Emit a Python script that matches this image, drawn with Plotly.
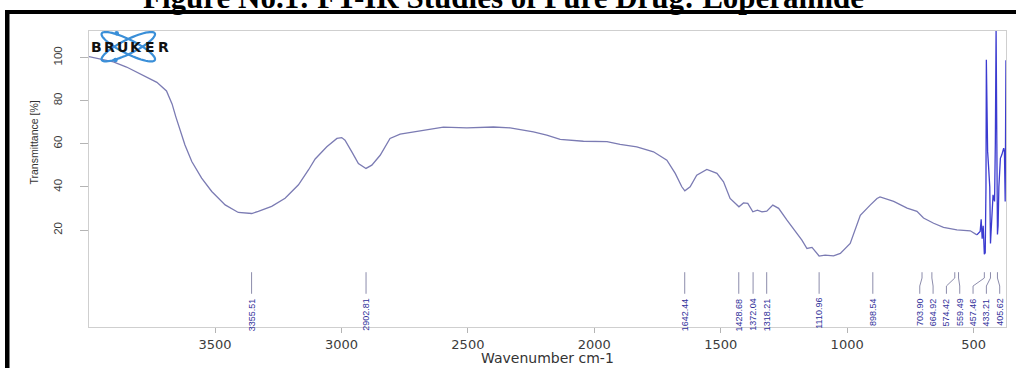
import numpy as np
import plotly.graph_objects as go

# FT-IR spectrum of loperamide (wavenumber in cm-1, transmittance in %)
wavenumber = [
    3999, 3902, 3850, 3784, 3730, 3692, 3670, 3655, 3645, 3619, 3592, 3553,
    3513, 3460, 3408, 3355, 3329, 3276, 3223, 3170, 3130, 3104, 3058, 3018,
    2999, 2986, 2959, 2933, 2903, 2880, 2847, 2808, 2768, 2715, 2662, 2597,
    2504, 2399, 2333, 2241, 2188, 2135, 2043, 1950, 1898, 1832, 1766, 1713,
    1680, 1654, 1642, 1621, 1595, 1555, 1515, 1489, 1463, 1443, 1428, 1410,
    1393, 1373, 1355, 1337, 1318, 1294, 1271, 1238, 1205, 1179, 1159, 1139,
    1111, 1087, 1054, 1027, 988, 948, 909, 882, 870, 856, 816, 763, 724, 698,
    658, 619, 566, 513, 487,
    480, 474, 470, 466, 462, 457.5, 454, 451, 449.5, 447, 444.5, 441, 438,
    436, 433.2, 430, 427, 423, 420, 417, 414, 411, 408, 405.6, 403, 400, 394,
    388, 381, 378, 375, 372,
]
transmittance = [
    100.4, 98.0, 95.6, 91.8, 88.5, 84.5, 78.5, 72.5, 68.8, 59.5, 51.8, 44.1,
    37.9, 31.7, 28.2, 27.7, 28.7, 31.0, 34.8, 41.0, 48.0, 53.0, 58.6, 62.5,
    62.9, 61.7, 56.3, 50.9, 48.6, 50.1, 54.7, 62.5, 64.5, 65.5, 66.8, 67.7,
    67.4, 67.8, 67.4, 65.5, 64.0, 62.1, 61.2, 61.0, 59.8, 58.6, 56.3, 52.4,
    46.3, 40.1, 38.2, 40.1, 45.5, 48.1, 46.3, 42.4, 34.7, 32.4, 30.8, 32.6,
    32.4, 28.5, 29.3, 28.5, 28.8, 31.6, 30.1, 24.6, 19.2, 15.4, 11.5, 12.0,
    8.0, 8.4, 8.1, 9.2, 13.8, 26.9, 31.6, 34.7, 35.4, 34.9, 33.3, 30.2, 28.7,
    25.6, 23.2, 21.3, 20.1, 19.7, 17.8,
    18.6, 19.4, 25.0, 16.0, 22.0, 8.8, 9.5, 40.0, 99.0, 70.0, 56.5, 50.0,
    44.5, 40.0, 13.8, 22.0, 30.0, 36.4, 34.5, 33.3, 60.0, 113.0, 60.0, 18.0,
    22.0, 40.0, 53.3, 55.0, 58.0, 56.3, 33.3, 98.7,
]

peak_positions = [3355.51, 2902.81, 1642.44, 1428.68, 1372.04, 1318.21,
                  1110.96, 898.54, 703.90, 664.92, 574.42, 559.49,
                  457.46, 433.21, 405.62]
peak_labels = ["3355.51", "2902.81", "1642.44", "1428.68", "1372.04",
               "1318.21", "1110.96", "898.54", "703.90", "664.92",
               "574.42", "559.49", "457.46", "433.21", "405.62"]

x_ticks = [3500, 3000, 2500, 2000, 1500, 1000, 500]
y_ticks = [20, 40, 60, 80, 100]

X_RANGE = [3998.5, 371.8]
Y_RANGE = [-24.9, 112.3]

W, H = 1016, 368
ML, MR, MT, MB = 89, 10, 31, 41

SANS = "Liberation Sans, Arial, sans-serif"
WIDE = "DejaVu Sans, Verdana, sans-serif"


def xp(px):
    return (px - ML) / (W - ML - MR)


def yp(py):
    return (H - MB - py) / (H - MT - MB)


def spread_labels(pos, gap):
    """Spread crowded peak labels evenly so they do not overlap."""
    pos = list(pos)
    out = list(pos)
    groups, cur = [], [0]
    for i in range(1, len(pos)):
        if pos[i - 1] - pos[i] < 2 * gap:
            cur.append(i)
        else:
            groups.append(cur)
            cur = [i]
    groups.append(cur)
    for g in groups:
        if len(g) < 2:
            continue
        vals = [pos[i] for i in g]
        gaps = [vals[k] - vals[k + 1] for k in range(len(vals) - 1)]
        if min(gaps) >= gap:
            continue
        span = vals[0] - vals[-1]
        step = max(gap, span / (len(g) - 1))
        mid = (vals[0] + vals[-1]) / 2
        start = mid + step * (len(g) - 1) / 2
        for k, i in enumerate(g):
            out[i] = start - k * step
    return out


wn = np.array(wavenumber)
tr = np.array(transmittance)
split = int(np.argmax(wn <= 487))

fig = go.Figure()

# smooth part of the spectrum
fig.add_trace(go.Scatter(
    x=wn[:split + 1], y=tr[:split + 1], mode="lines",
    line=dict(color="#7b7bb3", width=1.3), hoverinfo="skip",
    showlegend=False, cliponaxis=True,
))
# dense fingerprint region at low wavenumber
fig.add_trace(go.Scatter(
    x=wn[split:], y=tr[split:], mode="lines",
    line=dict(color="#3b3bd0", width=1.3), hoverinfo="skip",
    showlegend=False, cliponaxis=True,
))

# peak marker lines (bent where labels had to be moved apart)
label_pos = spread_labels(peak_positions, 52.7)
lx, ly = [], []
for p, lp in zip(peak_positions, label_pos):
    lx += [p, p, lp, lp, None]
    ly += [0.5, -2.2, -5.9, -9.5, None]
fig.add_trace(go.Scatter(
    x=lx, y=ly, mode="lines", line=dict(color="#8c8cab", width=1),
    hoverinfo="skip", showlegend=False,
))

annotations = []
for lp, txt in zip(label_pos, peak_labels):
    annotations.append(dict(
        x=lp, y=-10.6, xref="x", yref="y", text=txt, showarrow=False,
        textangle=-90, xanchor="center", yanchor="top",
        font=dict(family=SANS, size=9, color="#30309a"),
    ))

# figure title
annotations.append(dict(
    x=xp(503), y=yp(17), xref="paper", yref="paper",
    text="<b>Figure No.1: FT-IR Studies of Pure Drug: Loperamide</b>",
    showarrow=False, xanchor="center", yanchor="bottom",
    font=dict(family="Liberation Serif, Times New Roman, serif", size=31,
              color="#000000"),
))

# axis titles
annotations.append(dict(
    x=xp(547), y=yp(358), xref="paper", yref="paper",
    text="Wavenumber cm-1", showarrow=False, xanchor="center",
    yanchor="middle", font=dict(family=WIDE, size=14, color="#333333"),
))
annotations.append(dict(
    x=xp(33), y=yp(142.5), xref="paper", yref="paper",
    text="Transmittance [%]", showarrow=False, textangle=-90,
    xanchor="center", yanchor="middle",
    font=dict(family=SANS, size=10.5, color="#333333"),
))

# BRUKER logo lettering
for k, ch in enumerate("BRUKER"):
    annotations.append(dict(
        x=xp(96 + 13.4 * k), y=yp(46.5), xref="paper", yref="paper",
        text="<b>" + ch + "</b>", showarrow=False, xanchor="center",
        yanchor="middle", font=dict(family=WIDE, size=14, color="#111111"),
    ))

shapes = []


def ellipse_path(cx, cy, a, b, ang):
    t = np.linspace(0, 2 * np.pi, 60)
    ca, sa = np.cos(np.radians(ang)), np.sin(np.radians(ang))
    ex = cx + a * np.cos(t) * ca - b * np.sin(t) * sa
    ey = cy + a * np.cos(t) * sa + b * np.sin(t) * ca
    pts = [f"{xp(u):.5f},{yp(v):.5f}" for u, v in zip(ex, ey)]
    return "M " + " L ".join(pts) + " Z"


for ang in (26.6, -26.6):
    shapes.append(dict(type="path", xref="paper", yref="paper",
                       path=ellipse_path(128.3, 46.7, 29.7, 7, ang),
                       line=dict(color="#3a8fd8", width=2.2), layer="above"))
for cx, cy in ((116.7, 33.2), (115.5, 60.0)):
    shapes.append(dict(type="circle", xref="paper", yref="paper",
                       x0=xp(cx - 2.3), x1=xp(cx + 2.3),
                       y0=yp(cy + 2.3), y1=yp(cy - 2.3),
                       fillcolor="#3a8fd8", line=dict(width=0), layer="above"))

# black frame of the figure panel
shapes.append(dict(type="rect", xref="paper", yref="paper",
                   x0=xp(5), x1=xp(1020), y0=yp(14), y1=yp(10),
                   fillcolor="#000000", line=dict(width=0), layer="above"))
shapes.append(dict(type="rect", xref="paper", yref="paper",
                   x0=xp(5), x1=xp(9.5), y0=yp(372), y1=yp(10),
                   fillcolor="#000000", line=dict(width=0), layer="above"))

fig.update_layout(
    width=W, height=H,
    margin=dict(l=ML, r=MR, t=MT, b=MB, pad=0),
    paper_bgcolor="#ffffff", plot_bgcolor="#ffffff",
    showlegend=False,
    annotations=annotations,
    shapes=shapes,
    xaxis=dict(
        range=X_RANGE, tickvals=x_ticks, ticks="outside", ticklen=5,
        tickcolor="#b4b4b4", showline=True, linecolor="#cfcfcf",
        linewidth=1, mirror=True, showgrid=False, zeroline=False,
        tickfont=dict(family=WIDE, size=13, color="#3c3c3c"),
    ),
    yaxis=dict(
        range=Y_RANGE, tickvals=y_ticks, ticks="outside", ticklen=8,
        tickcolor="#b4b4b4", showline=True, linecolor="#cfcfcf",
        linewidth=1, mirror=True, showgrid=False, zeroline=False,
        tickangle=-90, ticklabelstandoff=13,
        tickfont=dict(family=SANS, size=11.5, color="#3c3c3c"),
    ),
)

fig.write_html("out.html")
